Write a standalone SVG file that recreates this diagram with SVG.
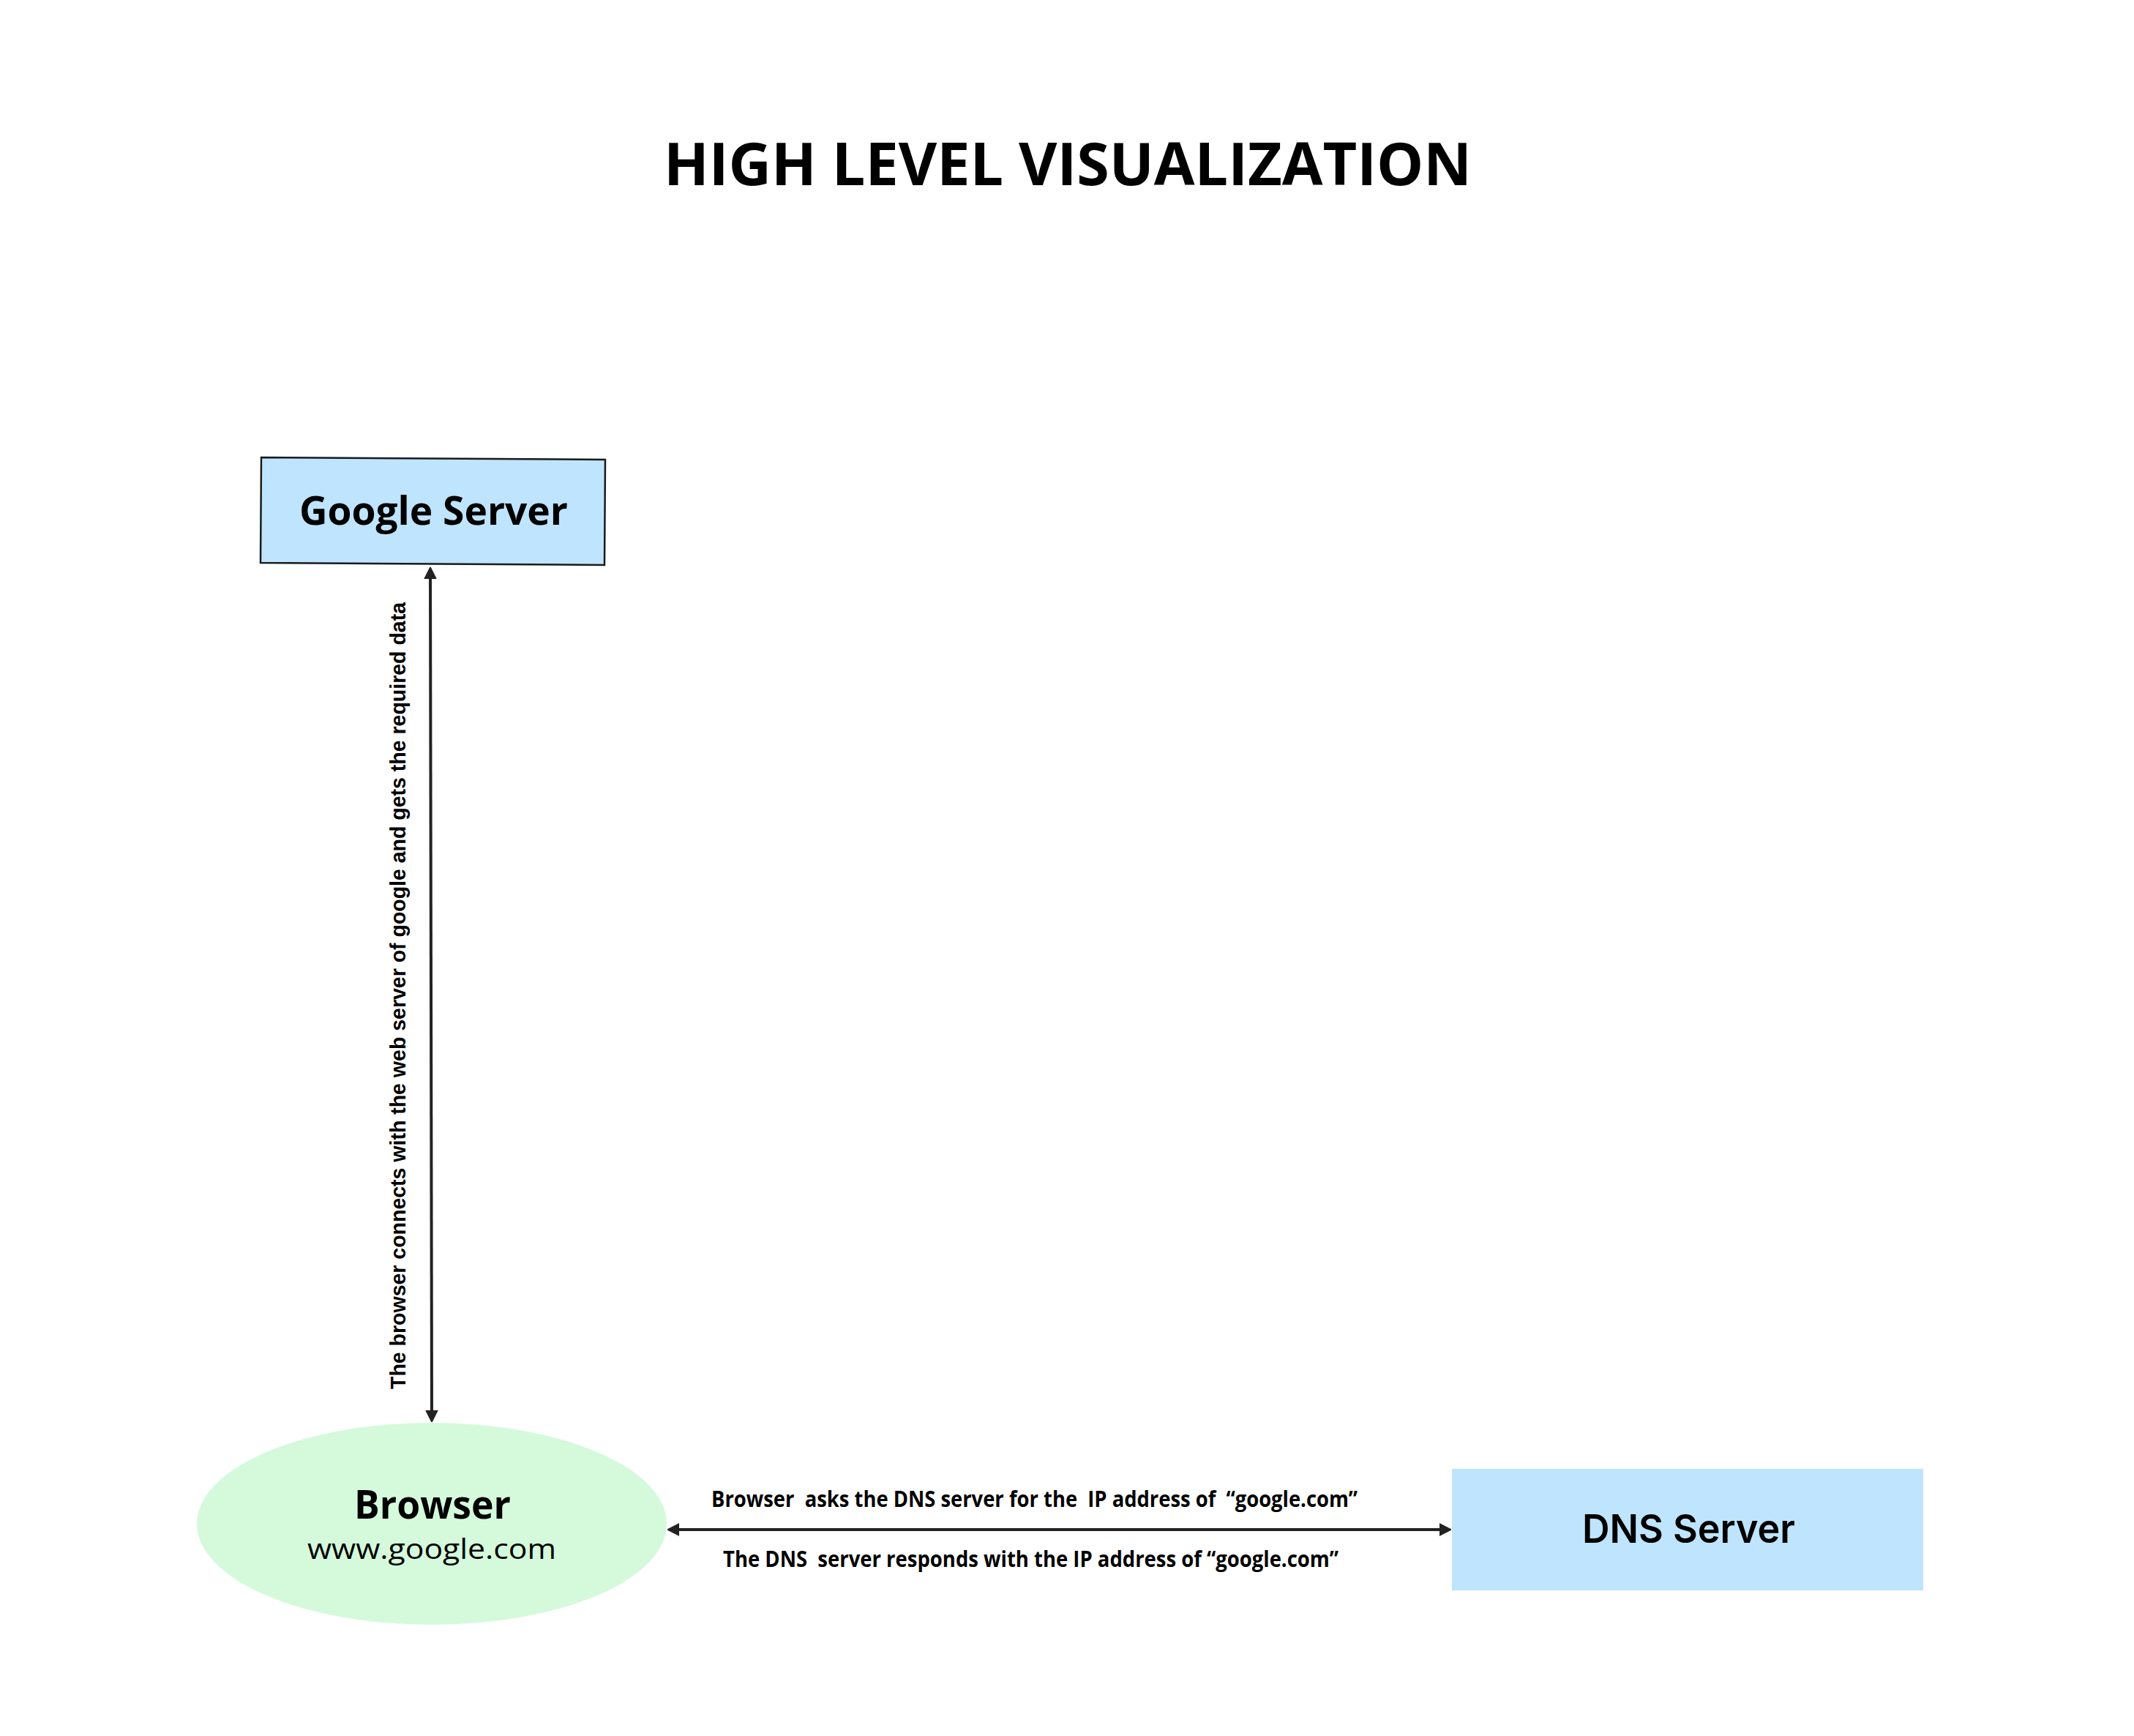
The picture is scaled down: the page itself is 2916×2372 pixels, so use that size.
<svg xmlns="http://www.w3.org/2000/svg" width="2916" height="2372" viewBox="0 0 2916 2372">
  <style>
    .title { font-family: "Open Sans", "Noto Sans", "Liberation Sans", sans-serif; font-weight: 700; font-size: 81px; fill: #000; }
    .node-bold { font-family: "Open Sans", "Noto Sans", "Liberation Sans", sans-serif; font-weight: 700; font-size: 54px; fill: #000; }
    .node-reg { font-family: "Open Sans", "Noto Sans", "Liberation Sans", sans-serif; font-weight: 400; font-size: 38px; fill: #000; }
    .dns { font-family: Inter, "Liberation Sans", sans-serif; font-weight: 600; font-size: 54px; fill: #000; }
    .label { font-family: "Open Sans", "Noto Sans", "Liberation Sans", sans-serif; font-weight: 700; font-size: 31px; fill: #000; white-space: pre; }
    .vlabel { font-family: "Liberation Sans", Arial, sans-serif; font-weight: 700; font-size: 29px; fill: #000; }
    .conn { stroke: #222; stroke-width: 4; fill: none; marker-start: url(#arrow); marker-end: url(#arrow); }
  </style>
  <defs>
    <marker id="arrow" viewBox="0 0 16 18" markerWidth="16" markerHeight="18" refX="8" refY="9" orient="auto-start-reverse" markerUnits="userSpaceOnUse">
      <path d="M0,1 L16,9 L0,17 z" fill="#222" stroke="#222" stroke-width="1.5" stroke-linejoin="round"/>
    </marker>
  </defs>
  <rect width="2916" height="2372" fill="#ffffff"/>

  <text class="title" x="1459" y="253" text-anchor="middle" textLength="1104" lengthAdjust="spacingAndGlyphs">HIGH LEVEL VISUALIZATION</text>

  <g id="google-server">
    <polygon points="357,625 827,628 826,772 356,769" fill="#BFE4FD" stroke="#1a1a1a" stroke-width="2.5"/>
    <text class="node-bold" x="592.5" y="717" text-anchor="middle" textLength="367" lengthAdjust="spacingAndGlyphs">Google Server</text>
  </g>

  <g id="browser">
    <ellipse cx="590" cy="2082" rx="321" ry="138" fill="#D4FADB"/>
    <text class="node-bold" x="591" y="2075" text-anchor="middle" textLength="214" lengthAdjust="spacingAndGlyphs">Browser</text>
    <text class="node-reg" x="590" y="2130" text-anchor="middle" textLength="340" lengthAdjust="spacingAndGlyphs">www.google.com</text>
  </g>

  <g id="dns-server">
    <rect x="1984" y="2007" width="644" height="166" fill="#BFE4FD"/>
    <text class="dns" x="2307.5" y="2108" text-anchor="middle" textLength="291" lengthAdjust="spacingAndGlyphs">DNS Server</text>
  </g>

  <g id="connectors">
    <line class="conn" x1="588" y1="783" x2="590" y2="1935"/>
    <line class="conn" x1="920" y1="2090" x2="1975" y2="2090"/>
    <text class="vlabel" transform="translate(554,1360.5) rotate(-90)" x="0" y="0" text-anchor="middle" textLength="1075" lengthAdjust="spacingAndGlyphs">The browser connects with the web server of google and gets the required data</text>
    <text class="label" x="1413.5" y="2059" text-anchor="middle" textLength="883" lengthAdjust="spacingAndGlyphs">Browser  asks the DNS server for the  IP address of  “google.com”</text>
    <text class="label" x="1408.5" y="2141" text-anchor="middle" textLength="841" lengthAdjust="spacingAndGlyphs">The DNS  server responds with the IP address of “google.com”</text>
  </g>
</svg>
